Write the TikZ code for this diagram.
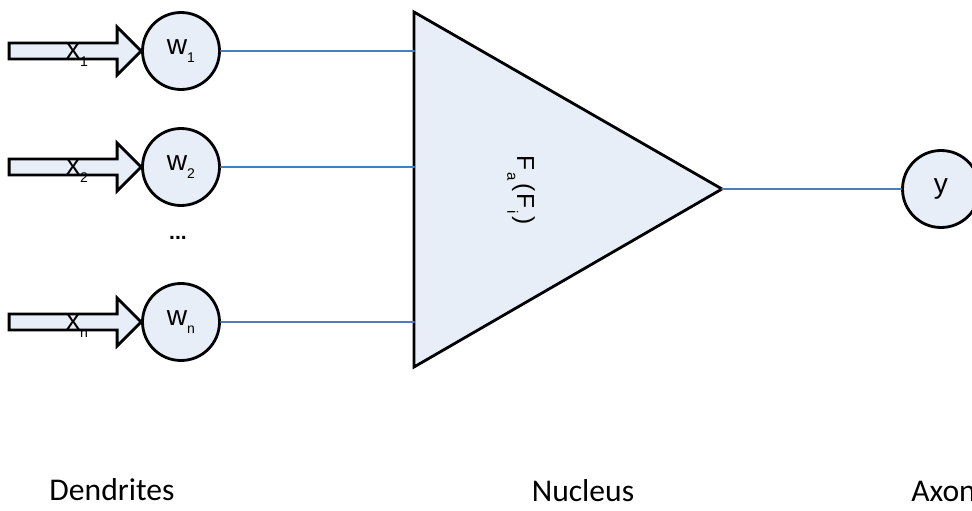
\documentclass[tikz,border=0pt]{standalone}
\usepackage{fontspec}
\setmainfont{Liberation Sans}
\newfontfamily\lblfont{Carlito}
\usetikzlibrary{calc}
\definecolor{neurfill}{RGB}{232,238,248}
\definecolor{synblue}{RGB}{74,126,187}
\newcommand\subidx[1]{\raisebox{-4.5pt}{\fontsize{8}{9}\selectfont #1}}

\begin{document}
\begin{tikzpicture}[x=0.02cm,y=-0.02cm,line join=round,line cap=round,
	neuron/.style={circle,draw,line width=1.6pt,fill=neurfill,minimum size=77*0.02cm,inner sep=0pt,font=\fontsize{16}{17}\selectfont},
	synapse/.style={draw=synblue,line width=1.2pt},
	blockarrow/.style={draw,line width=1.6pt,fill=neurfill,line join=miter},
	inlabel/.style={font=\fontsize{16}{17}\selectfont,inner sep=0pt},
	partname/.style={font=\lblfont\fontsize{18}{20}\selectfont,inner sep=0pt}]
	\useasboundingbox (0,0) rectangle (972,510);
	% Soma (tam giac)
	\coordinate (T1) at (414,12);
	\coordinate (T2) at (722,189);
	\coordinate (T3) at (414,367);
	\draw[line width=1.6pt,fill=neurfill,line join=miter] (T1)--(T2)--(T3)--cycle;
	\node[rotate=-90,font=\fontsize{14}{15}\selectfont,inner sep=0pt] (fa) at (521,190)
		{F\hspace{1pt}\raisebox{-5.5pt}{\fontsize{8.5}{9}\selectfont a}\hspace{1.5pt}(\hspace{1pt}F\hspace{1pt}\raisebox{-5.5pt}{\fontsize{8.5}{9}\selectfont i}\hspace{1.5pt})};
	% Trong so
	\node[neuron] (w1) at (181,51) {w\subidx{1}};
	\node[neuron] (w2) at (181,167) {w\subidx{2}};
	\node[neuron] (wn) at (181,322) {w\subidx{n}};
	\node[font=\bfseries\fontsize{12}{12}\selectfont] (dots) at (178,238) {...};
	% Dau vao
	\draw[blockarrow] (w1.west) -- ++(-24,-24) -- ++(0,16) -- ++(-108,0) -- ++(0,16) -- ++(108,0) -- ++(0,16) -- cycle;
	\draw[blockarrow] (w2.west) -- ++(-24,-24) -- ++(0,16) -- ++(-108,0) -- ++(0,16) -- ++(108,0) -- ++(0,16) -- cycle;
	\draw[blockarrow] (wn.west) -- ++(-24,-24) -- ++(0,16) -- ++(-108,0) -- ++(0,16) -- ++(108,0) -- ++(0,16) -- cycle;
	\node[inlabel] (x1) at (77,55) {x\subidx{1}};
	\node[inlabel] (x2) at (77,171) {x\subidx{2}};
	\node[inlabel] (xn) at (77,326) {x\subidx{n}};
	% Noi
	\draw[synapse] (w1.east) -- (w1.east -| T1);
	\draw[synapse] (w2.east) -- (w2.east -| T1);
	\draw[synapse] (wn.east) -- (wn.east -| T1);
	% Dau ra
	\node[neuron] (y) at (941,189) {y};
	\draw[synapse] (T2) -- (y.west);
	% Nhan
	\node[partname] (dend) at (112,490) {Dendrites};
	\node[partname] (nucl) at (583,491) {Nucleus};
	\node[partname,anchor=west] (axon) at (911,491) {Axon};
\end{tikzpicture}
\end{document}
